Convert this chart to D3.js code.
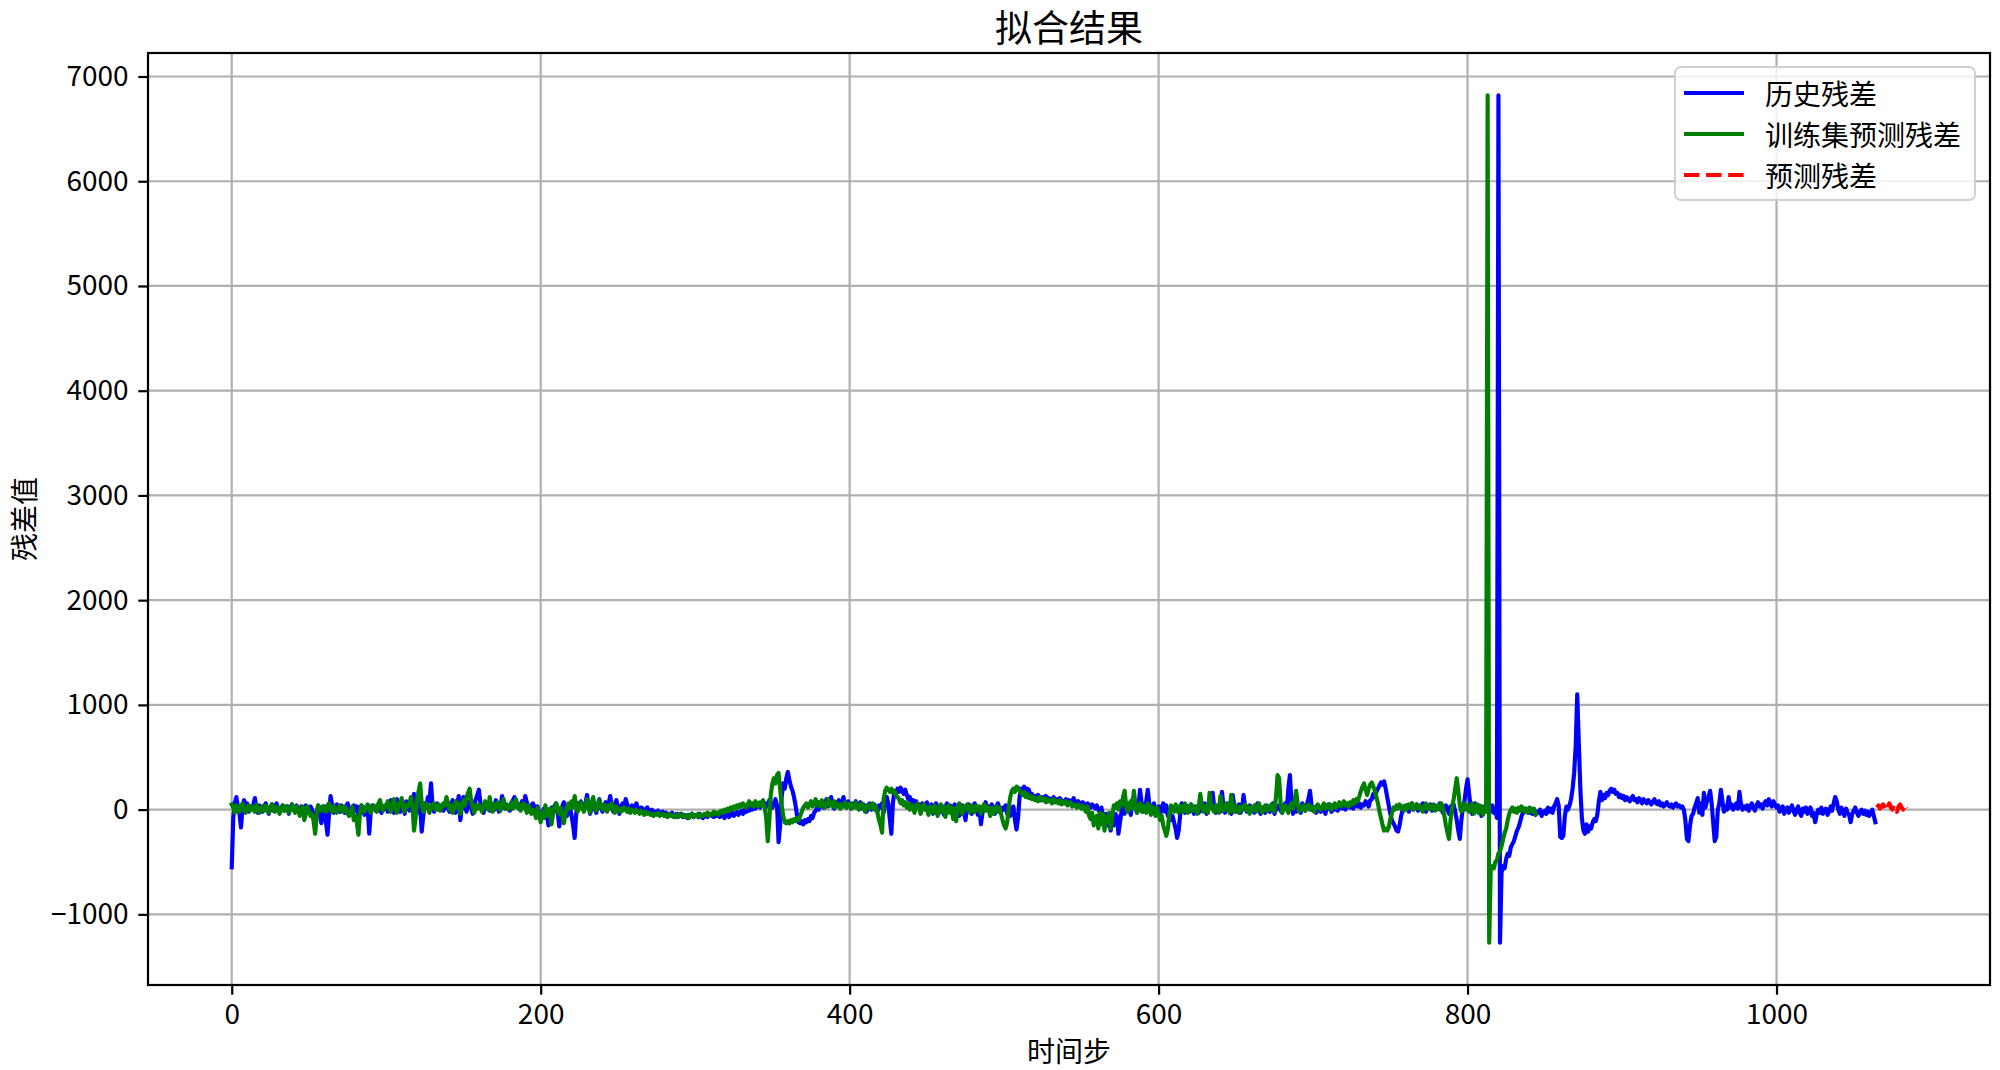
<!DOCTYPE html>
<html><head><meta charset="utf-8">
<script src="https://cdn.jsdelivr.net/npm/d3@7"></script>
<style>
body{margin:0;background:#fff;}
svg{display:block;}
text{font-family:"Noto Sans CJK SC","Noto Sans",sans-serif;fill:#000;}
</style>
</head><body>
<svg id="chart" width="2000" height="1070"></svg>
<script>
const titleText = "拟合结果";
const xLabelText = "时间步";
const yLabelText = "残差值";
const seriesNames = ["历史残差", "训练集预测残差", "预测残差"];
const seriesColors = ["#0000ff", "#008000", "#ff0000"];
const xTicks = [0, 200, 400, 600, 800, 1000];
const yTicks = [-1000, 0, 1000, 2000, 3000, 4000, 5000, 6000, 7000];

const historyStart = 0;
const trainStart = 0;
const forecastStart = 1065;

const historyResidual = [
-550,-80,60,120,30,-40,-170,20,90,40,60,-20,30,10,50,110,20,-30,40,10,
-20,30,60,0,-40,20,50,-10,30,60,10,-30,20,40,-10,0,30,-40,20,50,
10,-20,40,0,-30,30,10,-10,40,20,-20,30,0,-60,-100,-20,40,-40,-130,-20,
30,-120,-240,-40,130,40,-30,20,50,0,-20,40,10,-30,30,60,0,-20,20,40,
-10,30,-60,20,40,0,-50,10,30,-230,-20,40,20,-10,30,50,0,-30,20,10,
40,-20,30,90,10,-30,40,100,0,-20,50,30,-40,80,20,-10,60,30,150,40,
-30,80,20,-210,-60,60,30,120,80,250,40,-20,30,60,0,20,40,-10,30,60,
10,-20,50,90,20,-30,60,130,-100,40,120,30,-20,60,80,20,-40,50,100,140,
190,60,0,-30,40,20,60,-10,30,50,0,90,40,-20,30,130,60,10,50,20,
-10,40,90,120,30,60,10,40,80,20,130,70,30,-10,40,60,20,0,30,-20,
-40,-60,10,-80,-30,-150,-60,20,-40,40,60,-20,-160,-50,30,70,0,-60,40,20,
-60,-150,-270,-40,60,20,80,30,0,60,140,40,-40,30,80,10,-30,50,100,20,
-20,40,70,10,60,130,40,-20,50,90,20,-40,30,60,10,100,50,-20,20,40,
-10,30,60,0,-20,20,10,-30,0,20,-10,-20,0,-30,-20,-40,-10,-30,-50,-20,
-40,-30,-60,-40,-50,-30,-60,-70,-40,-50,-60,-40,-70,-50,-60,-80,-50,-60,-40,-70,
-60,-50,-70,-40,-60,-80,-50,-60,-70,-50,-40,-60,-70,-50,-60,-40,-70,-60,-50,-80,
-60,-40,-70,-50,-30,-60,-40,-20,-50,-30,-10,-40,0,-20,20,-10,30,0,40,10,
30,60,20,50,80,40,60,30,90,40,20,60,100,40,-310,-150,120,250,200,300,
360,280,220,180,120,40,-60,-120,-130,-110,-140,-100,-120,-90,-110,-60,-80,-30,-10,20,
0,40,70,20,50,100,30,60,120,40,10,70,50,90,30,60,120,40,20,80,
50,10,60,30,80,20,40,70,10,50,30,-20,40,60,0,30,50,10,-20,40,
20,60,-30,80,120,60,-90,-230,60,180,160,200,170,210,180,150,190,140,100,120,
60,90,30,80,20,50,-10,60,40,0,70,-20,30,50,-40,20,60,10,-30,40,
20,-50,30,60,0,40,-30,20,50,-10,30,-60,10,40,-20,-100,20,50,0,-40,
30,60,10,-50,20,-140,-30,40,70,10,30,-20,50,20,-40,30,60,10,-30,20,
0,40,-40,20,-60,10,30,-100,-190,-80,120,200,180,220,160,200,190,140,150,120,
130,100,140,110,90,120,100,130,80,110,100,90,120,80,100,70,110,90,60,80,
100,70,90,60,80,110,70,50,80,60,40,70,50,30,60,40,20,50,30,10,
40,0,-30,20,-60,-100,-40,-150,-120,-200,-80,-150,-40,-60,-230,-120,-20,50,-40,20,
60,10,-50,80,120,30,-30,40,190,60,-20,30,80,190,40,-40,20,60,-30,10,
30,-50,20,60,-20,40,-60,0,-100,-60,-120,-180,-270,-200,-40,60,0,-30,40,20,
-20,50,10,-40,30,0,-30,40,-10,20,60,-40,10,30,80,160,20,-30,40,10,
-20,170,40,-30,20,60,0,-40,140,30,-20,10,50,-30,0,140,30,-20,10,40,
-10,20,-30,30,60,0,-40,20,10,-30,40,0,-20,30,60,-40,0,20,40,-10,
-30,20,60,10,200,330,80,-40,20,-20,40,10,-30,60,20,-10,50,100,180,40,
-10,20,-30,40,10,-20,30,0,-40,20,50,10,-20,30,0,40,-10,20,50,10,
30,0,40,60,20,50,10,40,70,30,60,20,50,40,80,60,30,90,100,150,
120,170,200,230,260,240,270,200,120,40,-40,-100,-130,-160,-200,-210,-150,-60,0,30,
10,40,-20,30,60,0,20,50,-10,30,10,60,20,-20,40,10,50,-10,20,40,
0,30,60,10,-30,20,40,0,-40,30,10,50,-20,-100,-200,-280,-100,20,80,200,
290,150,30,-40,20,60,-10,40,0,-60,30,-20,50,10,-40,20,40,-30,10,-80,
6820,-1270,-600,-540,-560,-470,-420,-440,-360,-330,-300,-250,-200,-170,-120,-60,-30,10,-20,0,
-30,10,-40,-10,-50,-20,-30,0,-60,-30,-10,-40,20,-20,10,-30,30,60,100,40,
-260,-270,-250,-60,30,0,40,100,200,350,600,1100,650,200,-80,-200,-230,-140,-210,-160,
-180,-120,-90,-110,-50,80,170,90,140,110,160,140,180,200,170,190,150,160,120,140,
110,130,90,120,100,80,110,130,90,100,70,110,90,60,100,80,60,90,70,50,
80,100,60,50,80,40,60,30,50,70,40,30,50,20,40,60,30,40,20,30,
0,-100,-280,-300,-150,-60,-40,20,60,110,-30,60,-50,160,20,80,120,180,60,-120,
-300,-260,0,60,190,80,-20,30,0,120,20,50,0,30,60,10,170,50,0,30,
10,40,-10,30,60,20,-10,40,70,30,50,10,60,80,40,100,60,30,80,50,
20,40,-20,10,30,-40,0,20,-30,10,40,-10,-50,0,30,-30,-60,10,-20,20,
-40,-10,20,-60,-30,-120,-50,0,-30,20,-40,-10,10,-50,-20,30,-10,60,120,80,
0,-40,20,-20,-60,10,-30,-50,-120,-40,-10,20,-30,-60,-20,0,-40,-10,-50,-20,
-60,-30,0,-60,-120
];

const trainPredResidual = [
50,20,-30,40,10,-20,30,60,0,-30,20,40,-10,30,10,-20,50,20,-30,10,
30,-10,40,0,-30,20,50,10,-20,30,0,-40,20,40,-10,30,10,-30,20,50,
0,-30,30,10,-60,-20,30,-100,-40,30,-20,-60,-40,-110,-230,-50,40,20,-10,30,
10,-20,40,60,0,-20,30,10,-30,20,40,0,-20,30,10,-40,-60,-20,30,-100,
-60,-120,-240,-30,40,10,-20,30,50,0,-30,20,40,10,-20,60,90,20,-10,40,
30,80,10,-20,50,100,20,-30,60,40,110,10,-20,50,30,60,120,40,-200,-80,
100,180,250,60,-20,30,60,10,-30,40,20,60,0,30,50,-10,20,60,40,120,
60,0,40,-30,30,80,20,60,-40,30,90,40,120,160,200,80,20,-30,40,10,
50,20,-20,30,80,40,0,120,30,-20,50,20,70,30,-10,60,100,20,40,0,
30,70,10,40,100,20,50,-10,30,60,20,-30,40,10,-40,0,-30,-80,20,-60,
-120,-30,-80,40,-20,-60,10,-140,-40,30,60,0,-40,20,-60,-130,-40,30,60,10,
80,20,130,40,-20,30,70,10,-20,40,100,30,-30,60,120,20,-10,40,90,30,
0,50,20,-20,40,10,60,20,-30,30,0,-20,10,-10,20,0,-20,10,-30,0,
-10,-30,0,-20,-40,-10,-30,-50,-20,-40,-30,-50,-40,-60,-40,-50,-30,-60,-50,-40,
-60,-50,-70,-40,-60,-50,-70,-60,-50,-70,-40,-60,-50,-70,-60,-50,-80,-60,-40,-70,
-50,-60,-40,-70,-50,-60,-40,-50,-30,-60,-40,-50,-20,-40,-30,-50,-20,-10,-30,0,
-20,10,-10,20,0,30,10,40,20,50,30,60,40,20,50,80,40,60,30,80,
50,30,70,40,90,20,-80,-300,-100,150,250,300,250,330,350,200,40,-60,-120,-130,
-110,-130,-100,-120,-90,-110,-80,-100,-60,-20,20,40,60,20,50,80,30,60,100,40,
70,30,90,50,20,60,100,40,70,30,80,20,60,40,10,50,30,70,20,40,
60,10,50,20,70,30,0,40,60,20,-20,30,50,10,40,60,0,30,-30,-100,
-150,-220,100,180,210,190,170,200,160,180,140,120,100,60,90,40,70,20,60,0,
50,20,-30,40,60,10,-40,30,50,0,20,-50,30,10,-30,40,0,-60,20,50,
-20,30,-70,10,40,-30,20,-90,10,-110,30,60,10,-40,30,0,50,20,-30,40,
10,-20,40,0,30,-40,20,50,-10,30,0,-60,20,-40,10,30,-20,20,-40,-100,
-150,-180,-120,20,120,180,200,170,220,210,180,160,140,170,120,150,110,130,100,120,
90,110,80,120,100,90,110,70,100,80,90,60,100,70,80,60,90,50,70,60,
80,40,60,70,30,50,40,20,50,30,10,40,0,-20,30,-60,-90,-30,-150,-100,
-60,-180,-30,-140,-40,-200,-70,-120,-30,-180,-60,40,20,60,0,80,40,120,180,30,
-20,50,80,10,180,40,-30,20,60,-20,40,10,-30,60,20,-50,30,0,-60,20,
-40,-100,-60,-150,-200,-250,-180,-40,40,20,-20,50,0,-30,40,20,-20,60,10,-30,
20,50,-10,30,0,-40,30,150,40,-20,20,40,-30,160,30,0,-20,40,20,-30,
130,20,-10,30,60,0,-30,140,20,-20,40,10,-30,30,0,20,50,-10,30,-40,
20,0,40,-20,30,60,10,-30,20,40,-10,30,0,50,20,-20,120,330,300,60,
-30,20,40,0,-30,30,60,10,80,180,60,-20,30,0,40,-10,20,50,0,30,
10,-20,30,50,20,0,30,60,10,40,20,50,0,30,60,20,40,70,30,50,
80,40,60,30,70,50,90,60,100,80,130,180,220,250,190,140,200,240,260,220,
180,120,60,-20,-80,-150,-200,-180,-200,-170,-90,-40,20,0,40,10,50,20,30,-10,
40,10,50,20,60,0,30,50,10,40,20,-20,30,60,10,40,0,30,50,-10,
20,40,0,60,20,-60,-150,-220,-280,-100,20,100,200,300,180,40,-20,30,60,0,
40,-20,30,60,-40,20,50,-30,40,0,-50,30,-20,6820,-1270,-560,-540,-560,-500,-480,
-420,-400,-350,-280,-220,-180,-100,-40,0,20,-20,10,-30,20,-10,30,0,-20,10,-30,
20,0,-20,10,-40
];

const forecastResidual = [20,40,10,30,50,20,-10,30,60,20,0,40,10,-20,30,50,20,0,40,10];

// ---------- layout ----------
const W = 2000, H = 1070;
const m = {left: 148, top: 53, right: 10, bottom: 85};
const pw = W - m.left - m.right, ph = H - m.top - m.bottom;

const series = [
  {name: seriesNames[0], color: seriesColors[0], dash: null, pts: historyResidual.map((v,i)=>[historyStart+i, v])},
  {name: seriesNames[1], color: seriesColors[1], dash: null, pts: trainPredResidual.map((v,i)=>[trainStart+i, v])},
  {name: seriesNames[2], color: seriesColors[2], dash: "15.4,6.7", pts: forecastResidual.map((v,i)=>[forecastStart+i, v])}
];
const allPts = series.flatMap(s => s.pts);
const xe = d3.extent(allPts, d => d[0]);
const ye = d3.extent(allPts, d => d[1]);
const xp = (xe[1]-xe[0])*0.05, yp = (ye[1]-ye[0])*0.05;

const x = d3.scaleLinear().domain([xe[0]-xp, xe[1]+xp]).range([0, pw]);
const y = d3.scaleLinear().domain([ye[0]-yp, ye[1]+yp]).range([ph, 0]);

const svg = d3.select("#chart");
svg.append("rect").attr("width", W).attr("height", H).attr("fill", "#fff");
const g = svg.append("g").attr("transform", `translate(${m.left},${m.top})`);

// grid
const grid = g.append("g");
grid.selectAll(".gx").data(xTicks).join("line")
  .attr("x1", d => x(d)).attr("x2", d => x(d)).attr("y1", 0).attr("y2", ph)
  .attr("stroke", "#b0b0b0").attr("stroke-width", 2.2);
grid.selectAll(".gy").data(yTicks).join("line")
  .attr("y1", d => y(d)).attr("y2", d => y(d)).attr("x1", 0).attr("x2", pw)
  .attr("stroke", "#b0b0b0").attr("stroke-width", 2.2);

// lines
svg.append("defs").append("clipPath").attr("id", "clip")
  .append("rect").attr("width", pw).attr("height", ph);
const line = d3.line().x(d => x(d[0])).y(d => y(d[1]));
const lg = g.append("g").attr("clip-path", "url(#clip)");
series.forEach(s => {
  lg.append("path").datum(s.pts).attr("d", line)
    .attr("fill", "none").attr("stroke", s.color).attr("stroke-width", 4.17)
    .attr("stroke-linejoin", "round").attr("stroke-linecap", s.dash ? "butt" : "square")
    .attr("stroke-dasharray", s.dash);
});

// axes
const fmt = v => v < 0 ? "\u2212" + Math.abs(v) : String(v);
const xAxis = d3.axisBottom(x).tickValues(xTicks).tickSize(9.7).tickPadding(9.7).tickFormat(fmt);
const yAxis = d3.axisLeft(y).tickValues(yTicks).tickSize(9.7).tickPadding(9.7).tickFormat(fmt);
const gx = g.append("g").attr("transform", `translate(0,${ph})`).call(xAxis);
const gy = g.append("g").call(yAxis);
[gx, gy].forEach(a => {
  a.select(".domain").remove();
  a.selectAll(".tick line").attr("stroke", "#000").attr("stroke-width", 2.2);
  a.selectAll(".tick text").attr("font-size", 28).attr("fill", "#000")
    .style("font-family", '"Noto Sans CJK SC", sans-serif');
});

// spines
g.append("rect").attr("x", 0).attr("y", 0).attr("width", pw).attr("height", ph)
  .attr("fill", "none").attr("stroke", "#000").attr("stroke-width", 2.2);

// title & labels
svg.append("text").attr("x", m.left + pw/2).attr("y", 42).attr("text-anchor", "middle")
  .attr("font-size", 37).text(titleText);
svg.append("text").attr("x", m.left + pw/2).attr("y", 1062).attr("text-anchor", "middle")
  .attr("font-size", 28).text(xLabelText);
svg.append("text").attr("transform", `translate(35,${m.top + ph/2}) rotate(-90)`)
  .attr("text-anchor", "middle")
  .attr("font-size", 28).text(yLabelText);

// legend
const lgX = 1675, lgY = 67, lgW = 300, lgH = 133;
const leg = svg.append("g");
leg.append("rect").attr("x", lgX).attr("y", lgY).attr("width", lgW).attr("height", lgH)
  .attr("rx", 6).attr("fill", "#fff").attr("fill-opacity", 0.8)
  .attr("stroke", "#d0d0d0").attr("stroke-width", 2);
series.forEach((s, i) => {
  const cy = 93 + i * 41;
  leg.append("line").attr("x1", lgX + 9).attr("x2", lgX + 69).attr("y1", cy).attr("y2", cy)
    .attr("stroke", s.color).attr("stroke-width", 4.17).attr("stroke-dasharray", s.dash);
  leg.append("text").attr("x", lgX + 90).attr("y", cy).attr("dominant-baseline", "central")
    .attr("font-size", 28).text(s.name);
});
</script>
</body></html>
